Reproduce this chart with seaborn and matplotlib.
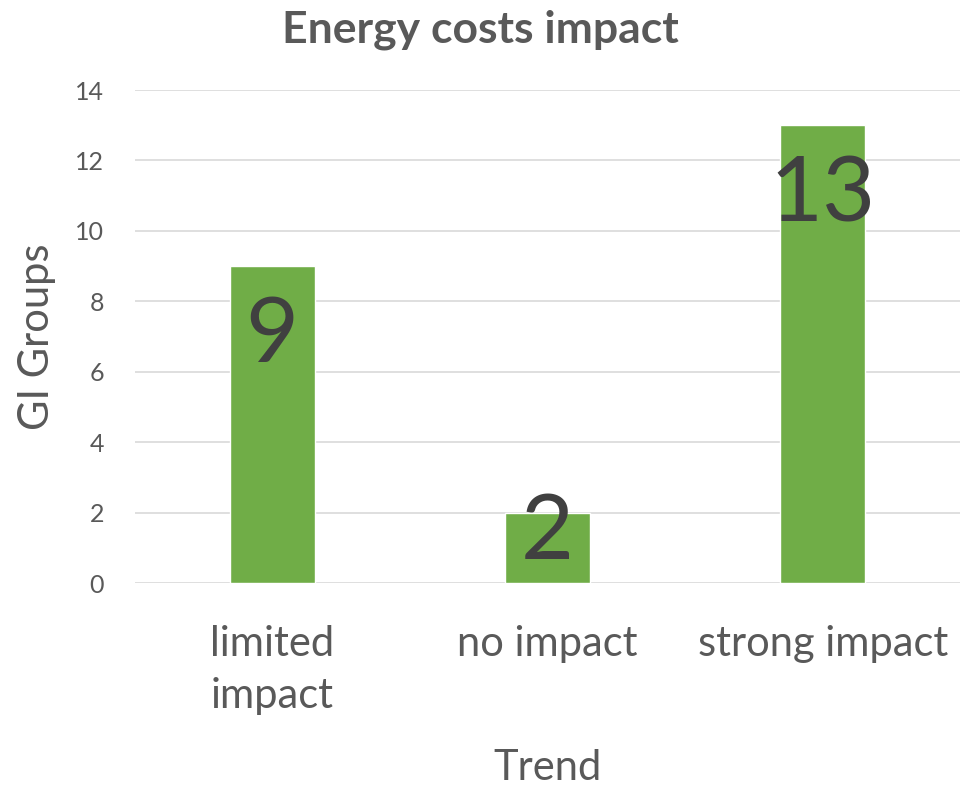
import pandas as pd
import matplotlib.pyplot as plt
import seaborn as sns

categories = ["limited\nimpact", "no impact", "strong impact"]
groups = [9, 2, 13]

sns.set_theme(style="white")
plt.rcParams['font.family'] = ['Lato', 'DejaVu Sans']

df = pd.DataFrame({'trend': categories, 'groups': groups})

fig = plt.figure(figsize=(9.76, 7.9), dpi=100)
ax = fig.add_axes([0.138, 0.262, 0.846, 0.624])

sns.barplot(x='trend', y='groups', data=df, color='#70AD47', width=0.31,
            saturation=1, ax=ax, zorder=3)

ax.set_ylim(0, 14)
ax.set_yticks(range(0, 15, 2))
ax.yaxis.grid(True, color='#D9D9D9', linewidth=1.2, zorder=0)
ax.set_axisbelow(True)
for s in ax.spines.values():
    s.set_visible(False)
ax.tick_params(axis='y', labelsize=18, labelcolor='#595959', length=0, pad=22)
ax.tick_params(axis='x', labelsize=30, labelcolor='#595959', length=0, pad=30)
for lbl in ax.get_xticklabels():
    lbl.set_linespacing(1.45)

# data labels inside the bars
for i, v in enumerate(groups):
    off = min(2.0, v * 0.29)
    ax.text(i, v - off, str(v), ha='center', va='center', fontsize=66,
            color='#404040', zorder=4)

fig.suptitle("Energy costs impact", fontsize=32, fontweight='bold',
             color='#595959', x=0.492, y=0.988)
ax.set_xlabel("Trend", fontsize=30, color='#595959', labelpad=25)
ax.set_ylabel("GI Groups", fontsize=30, color='#595959', labelpad=14)

plt.savefig('out.png', dpi=100)
